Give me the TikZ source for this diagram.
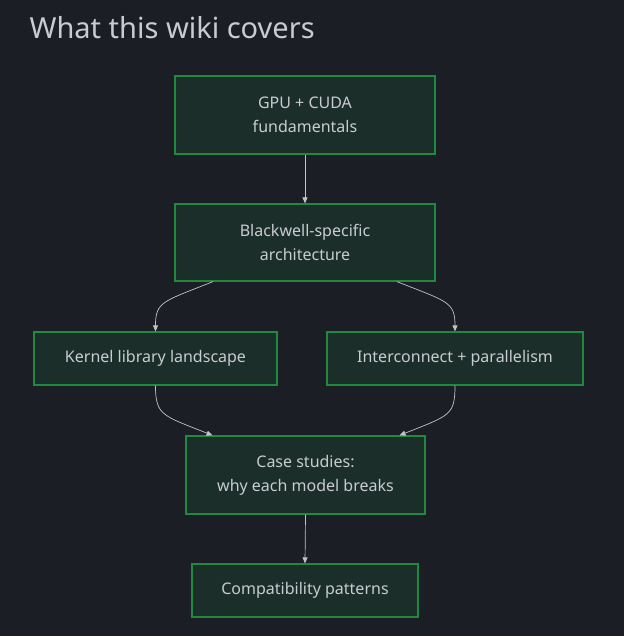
\documentclass[tikz,border=0pt]{standalone}
\usepackage{fontspec}
\setmainfont{Noto Sans}
\usetikzlibrary{arrows.meta}
\definecolor{bg}{HTML}{1C1E26}
\definecolor{boxfill}{HTML}{1C2E2A}
\definecolor{boxline}{HTML}{1F8A3D}
\definecolor{txt}{HTML}{C8CCD0}
\definecolor{arr}{HTML}{C0C4C8}
\begin{document}
\begin{tikzpicture}[x=1pt,y=-1pt,
  box/.style={draw=boxline,fill=boxfill,line width=1.2pt,text=txt,font=\fontsize{16}{24}\selectfont,align=center,inner sep=0pt},
  conn/.style={draw=arr,line width=0.7pt,-{Triangle[length=6pt,width=5pt]}}]
\fill[bg] (0,0) rectangle (624,636);
\useasboundingbox (0,0) rectangle (624,636);
\node[anchor=base west,text=txt,font=\fontsize{29}{32}\selectfont] (title) at (26,39) {What this wiki covers};
\node[box,minimum width=260pt,minimum height=78pt] (a) at (305,115) {GPU + CUDA\\fundamentals};
\node[box,minimum width=260pt,minimum height=77pt] (b) at (305,242.5) {Blackwell-specific\\architecture};
\node[box,minimum width=243pt,minimum height=53pt] (c) at (155.5,358.5) {Kernel library landscape};
\node[box,minimum width=256pt,minimum height=53pt] (d) at (455,358.5) {Interconnect + parallelism};
\node[box,minimum width=239pt,minimum height=78pt] (e) at (305.5,475) {Case studies:\\why each model breaks};
\node[box,minimum width=226pt,minimum height=53pt] (f) at (305,590.5) {Compatibility patterns};
\draw[conn] (a.south) -- (b.north);
\draw[conn] ([xshift=-92pt]b.south) .. controls +(-50,20) and +(0,-30) .. (c.north);
\draw[conn] ([xshift=92pt]b.south) .. controls +(50,20) and +(0,-30) .. (d.north);
\draw[conn] (c.south) .. controls +(0,30) and +(-50,-20) .. ([xshift=-93pt]e.north);
\draw[conn] (d.south) .. controls +(0,30) and +(50,-20) .. ([xshift=94pt]e.north);
\draw[conn] (e.south) -- (f.north);
\end{tikzpicture}
\end{document}
